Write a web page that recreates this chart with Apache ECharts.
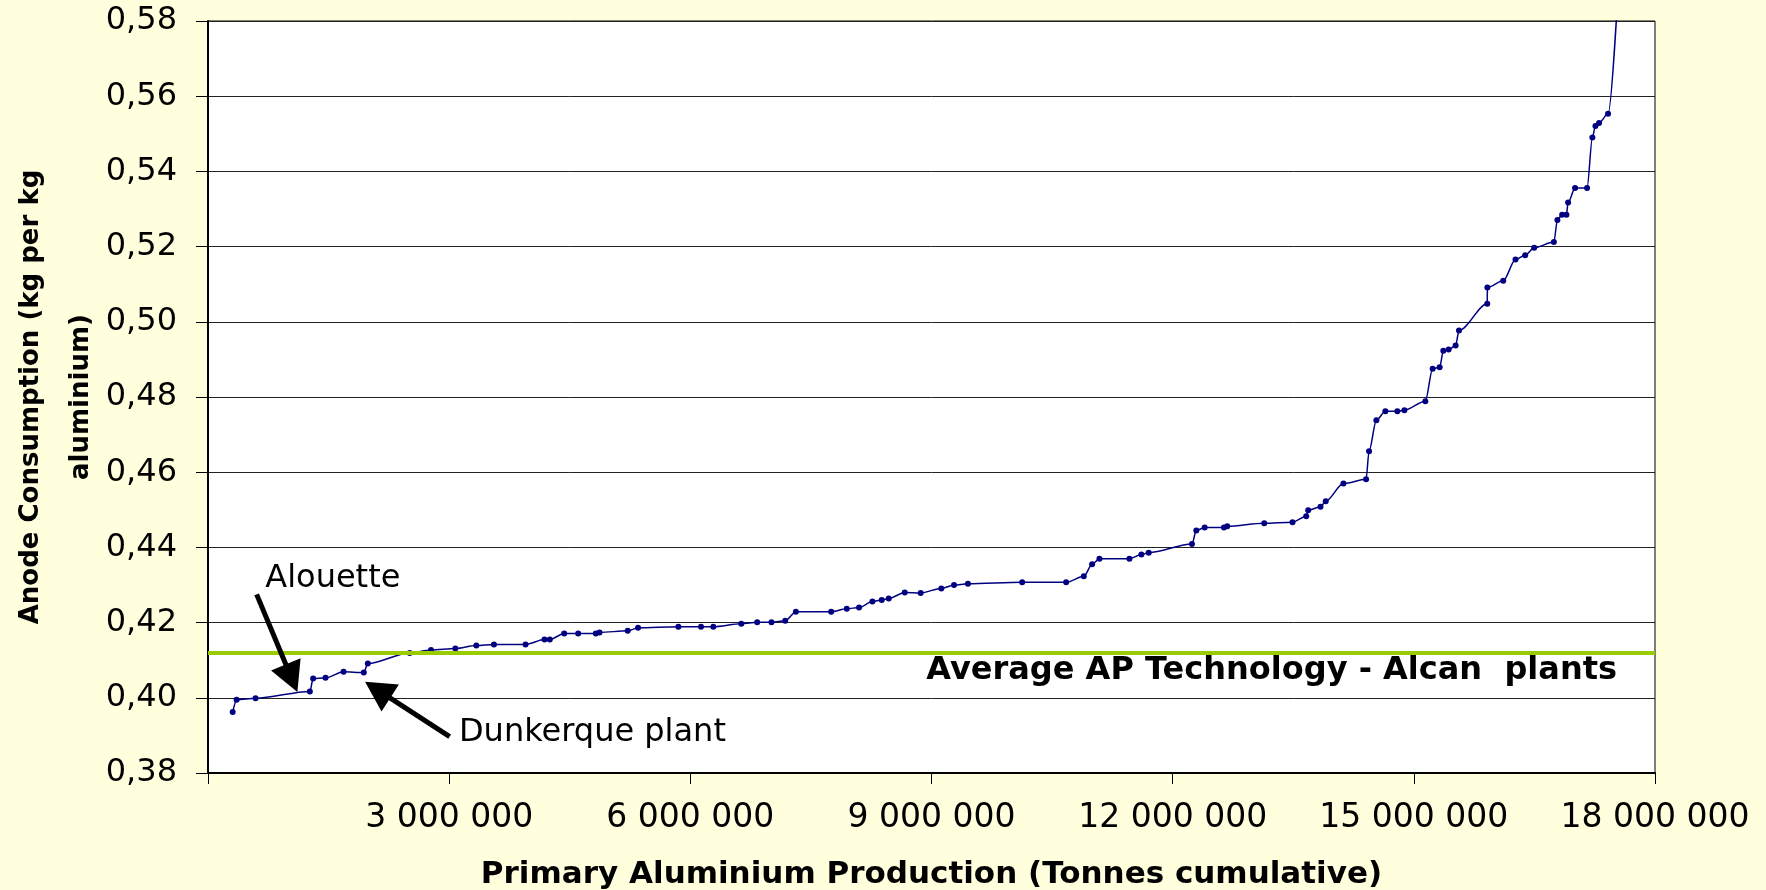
<!DOCTYPE html>
<html>
<head>
<meta charset="utf-8">
<title>Anode Consumption</title>
<script src="https://cdn.jsdelivr.net/npm/echarts@6/dist/echarts.min.js"></script>
<style>
    html, body { margin: 0; padding: 0; background: #FFFFDD; }
    #chart { width: 1766px; height: 890px; }
</style>
</head>
<body>
<div id="chart"></div>
<script>
// cumulative primary aluminium production (tonnes)
const production = [
    307000, 356000, 592000, 1267000, 1308000, 1462000, 1686000, 1938000, 1988000, 2509000,
    2774000, 3077000, 3338000, 3557000, 3950000, 4186000, 4252000, 4431000, 4605000, 4824000,
    4870000, 5221000, 5350000, 5851000, 6133000, 6286000, 6634000, 6832000, 7010000, 7180000,
    7313000, 7752000, 7946000, 8099000, 8265000, 8381000, 8468000, 8667000, 8865000, 9122000,
    9280000, 9453000, 10128000, 10675000, 10894000, 10998000, 11089000, 11462000, 11611000, 11702000,
    12240000, 12294000, 12398000, 12638000, 12679000, 13139000, 13491000, 13661000, 13686000, 13839000,
    13904000, 14124000, 14406000, 14443000, 14534000, 14646000, 14795000, 14882000, 15143000, 15234000,
    15321000, 15367000, 15433000, 15520000, 15562000, 15913000, 15915000, 16112000, 16265000, 16385000,
    16497000, 16742000, 16786000, 16845000, 16898000, 16919000, 17006000, 17155000, 17221000, 17259000,
    17304000, 17416000, 17571000
]
// anode consumption (kg per kg aluminium)
const consumption = [
    0.3962, 0.3995, 0.3999, 0.4017, 0.4051, 0.4053, 0.4069, 0.4067, 0.4091, 0.4119,
    0.4127, 0.4131, 0.4139, 0.4142, 0.4142, 0.4155, 0.4155, 0.4171, 0.4171, 0.4171,
    0.4174, 0.4178, 0.4186, 0.4189, 0.4189, 0.4189, 0.4197, 0.4201, 0.4201, 0.4205,
    0.4229, 0.4229, 0.4237, 0.4240, 0.4256, 0.4260, 0.4264, 0.4280, 0.4279, 0.4291,
    0.4300, 0.4303, 0.4307, 0.4307, 0.4323, 0.4355, 0.4370, 0.4370, 0.4381, 0.4386,
    0.4409, 0.4445, 0.4453, 0.4453, 0.4456, 0.4464, 0.4467, 0.4483, 0.4499, 0.4508,
    0.4523, 0.4570, 0.4581, 0.4656, 0.4738, 0.4762, 0.4762, 0.4765, 0.4789, 0.4875,
    0.4879, 0.4923, 0.4926, 0.4937, 0.4977, 0.5048, 0.5091, 0.5109, 0.5166, 0.5177,
    0.5197, 0.5212, 0.5271, 0.5285, 0.5285, 0.5317, 0.5356, 0.5356, 0.5490, 0.5521,
    0.5529, 0.5553, 0.6000
]
const averageAP = 0.412
const averageLabel = 'Average AP Technology - Alcan  plants'

// annotations: [text, x, y, align] and arrows [fromX, fromY, toX, toY]
const notes = [
    ['Alouette', 1553000, 0.4317, 'center'],
    ['Dunkerque plant', 3122000, 0.3906, 'left']
]
const arrows = [
    [605000, 0.4275, 1040000, 0.4052],
    [3006000, 0.3897, 2110000, 0.4021]
]

const FONT = 'DejaVu Sans'

function fmtThousands (v) {
    if (v === 0) return ''
    return String(v).replace(/\B(?=(\d{3})+(?!\d))/g, ' ')
}

const chart = echarts.init(document.getElementById('chart'))

const option = {
    backgroundColor: '#FFFFDD',
    animation: false,
    grid: {
        left: 208,
        right: 111,
        top: 21,
        bottom: 117,
        containLabel: false,
        outerBoundsMode: 'none',
        show: true,
        backgroundColor: '#ffffff',
        borderColor: '#000000',
        borderWidth: 1
    },
    xAxis: {
        type: 'value',
        min: 0,
        max: 18000000,
        interval: 3000000,
        name: 'Primary Aluminium Production (Tonnes cumulative)',
        nameLocation: 'middle',
        nameGap: 86,
        nameTextStyle: { fontFamily: FONT, fontSize: 31, fontWeight: 'bold', color: '#000' },
        axisLine: { show: true, lineStyle: { color: '#000', width: 2 } },
        axisTick: { show: true, inside: false, length: 11, lineStyle: { color: '#000', width: 1 } },
        axisLabel: {
            margin: 29,
            fontFamily: FONT,
            fontSize: 33,
            color: '#000',
            formatter: fmtThousands
        },
        splitLine: { show: false }
    },
    yAxis: {
        type: 'value',
        min: 0.38,
        max: 0.58,
        interval: 0.02,
        name: 'Anode Consumption (kg per kg\naluminium)',
        nameLocation: 'middle',
        nameRotate: 90,
        nameGap: 102,
        nameMoveOverlap: false,
        nameTextStyle: { fontFamily: FONT, fontSize: 26, fontWeight: 'bold', color: '#000', lineHeight: 50 },
        axisLine: { show: true, lineStyle: { color: '#000', width: 2 } },
        axisTick: { show: true, inside: false, length: 12, lineStyle: { color: '#000', width: 1 } },
        axisLabel: {
            margin: 31,
            fontFamily: FONT,
            fontSize: 32,
            color: '#000',
            formatter: v => v.toFixed(2).replace('.', ',')
        },
        splitLine: { show: true, lineStyle: { color: '#222', width: 1 } }
    },
    series: [
        {
            name: 'Anode consumption',
            type: 'line',
            data: production.map((x, i) => [x, consumption[i]]),
            smooth: 0.3,
            smoothMonotone: 'x',
            clip: true,
            symbol: 'circle',
            symbolSize: 6,
            showAllSymbol: true,
            lineStyle: { color: '#000080', width: 1.5 },
            itemStyle: { color: '#000080' },
            z: 3,
            markLine: {
                silent: true,
                precision: 4,
                symbol: ['none', 'none'],
                data: [
                    {
                        yAxis: averageAP,
                        lineStyle: { color: '#99CC00', width: 4, type: 'solid' },
                        label: {
                            show: true,
                            position: 'insideEndBottom',
                            distance: [38, 2],
                            formatter: averageLabel,
                            fontFamily: FONT,
                            fontSize: 32,
                            fontWeight: 'bold',
                            color: '#000'
                        }
                    }
                ]
            }
        },
        {
            // arrows and text notes
            name: 'notes',
            type: 'line',
            data: [],
            markLine: {
                silent: true,
                precision: 4,
                symbol: ['none', 'triangle'],
                symbolSize: [32, 30],
                lineStyle: { color: '#000', width: 5, type: 'solid' },
                label: { show: false },
                data: arrows.map(a => [{ coord: [a[0], a[1]] }, { coord: [a[2], a[3]] }])
            },
            markPoint: {
                silent: true,
                symbol: 'circle',
                symbolSize: 0,
                data: notes.map(n => ({
                    coord: [n[1], n[2]],
                    label: {
                        show: true,
                        position: 'inside',
                        align: n[3],
                        verticalAlign: 'middle',
                        formatter: n[0],
                        fontFamily: FONT,
                        fontSize: 32,
                        color: '#000'
                    }
                }))
            }
        }
    ]
}

chart.setOption(option)
</script>
</body>
</html>
